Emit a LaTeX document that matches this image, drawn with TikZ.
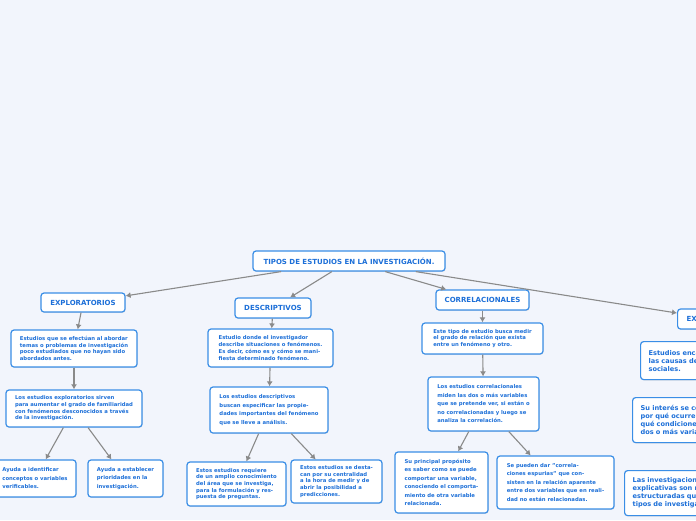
\documentclass[tikz,border=0pt]{standalone}
\usepackage{fontspec}
\setmainfont{DejaVu Sans}
\usetikzlibrary{arrows.meta,shadows}
\definecolor{pagebg}{HTML}{F2F5FC}
\definecolor{tinta}{HTML}{1C6FD8}
\definecolor{borde}{HTML}{3A8EE6}
\definecolor{flecha}{HTML}{8A8A8A}

\begin{document}
\begin{tikzpicture}[x=1pt,y=-1pt,
  caja/.style={draw=borde,fill=white,line width=1.2pt,rounded corners=3pt,
    text=tinta,align=left,inner xsep=6pt,inner ysep=2pt,
    drop shadow={opacity=0.2,shadow xshift=0.6pt,shadow yshift=-0.9pt}},
  tema/.style={caja,font=\fontsize{7}{8}\selectfont\bfseries,align=center},
  nota/.style={caja,font=\fontsize{5.3}{6.7}\selectfont\bfseries},
  notaw/.style={caja,font=\fontsize{5.3}{8.5}\selectfont\bfseries},
  notax/.style={caja,font=\fontsize{6.6}{8}\selectfont\bfseries,anchor=north west,
    text width=150pt,inner xsep=8pt},
  link/.style={draw=flecha,line width=1.1pt,-{Latex[length=5pt,width=6pt]}}]
\useasboundingbox (0,0) rectangle (696,520);
\clip (0,0) rectangle (696,520);
\fill[pagebg] (0,0) rectangle (696,520);
% ===== root =====
\node[tema,minimum width=192pt,minimum height=20pt] (tipos) at (349,261)
  {TIPOS DE ESTUDIOS EN LA INVESTIGACIÓN.};
% ===== the four kinds =====
\node[tema,minimum width=84pt,minimum height=19pt] (explo) at (83,302.5) {EXPLORATORIOS};
\node[tema,minimum width=76pt,minimum height=20pt] (descr) at (273,308) {DESCRIPTIVOS};
\node[tema,minimum width=93pt,minimum height=20pt] (corre) at (482.5,300) {CORRELACIONALES};
\node[tema,minimum height=20pt,inner xsep=9pt,anchor=west] (expli) at (677,319) {EXPLICATIVOS};
% ===== exploratorios branch =====
\node[nota,minimum width=126pt,minimum height=37pt] (explo1) at (74,348.5)
  {Estudios que se efectúan al abordar\\temas o problemas de investigación\\
   poco estudiados que no hayan sido\\abordados antes.};
\node[nota,minimum width=136pt,minimum height=37pt] (explo2) at (74,408.5)
  {Los estudios exploratorios sirven\\para aumentar el grado de familiaridad\\
   con fenómenos desconocidos a través\\de la investigación.};
\node[notaw,minimum width=82pt,minimum height=37pt] (explo3) at (35,478.5)
  {Ayuda a identificar\\conceptos o variables\\verificables.};
\node[notaw,minimum width=75pt,minimum height=37pt] (explo4) at (125.5,478.5)
  {Ayuda a establecer\\prioridades en la\\investigación.};
% ===== descriptivos branch =====
\node[nota,minimum width=125pt,minimum height=38pt] (descr1) at (270.5,348)
  {Estudio donde el investigador\\describe situaciones o fenómenos.\\
   Es decir, cómo es y cómo se mani-\\fiesta determinado fenómeno.};
\node[notaw,minimum width=118pt,minimum height=46pt] (descr2) at (269,410)
  {Los estudios descriptivos\\buscan especificar las propie-\\
   dades importantes del fenómeno\\que se lleve a análisis.};
\node[nota,minimum width=99pt,minimum height=44pt] (descr3) at (236.5,484)
  {Estos estudios requiere\\de un amplio conocimiento\\del área que se investiga,\\
   para la formulación y res-\\puesta de preguntas.};
\node[nota,minimum width=91pt,minimum height=43pt] (descr4) at (336.5,481.5)
  {Estos estudios se desta-\\can por su centralidad\\a la hora de medir y de\\
   abrir la posibilidad a\\predicciones.};
% ===== correlacionales branch =====
\node[nota,minimum width=121pt,minimum height=31pt] (corre1) at (482.5,338.5)
  {Este tipo de estudio busca medir\\el grado de relación que exista\\
   entre un fenómeno y otro.};
\node[notaw,minimum width=111pt,minimum height=54pt] (corre2) at (483.5,404)
  {Los estudios correlacionales\\miden las dos o más variables\\
   que se pretende ver, si están o\\no correlacionadas y luego se\\
   analiza la correlación.};
\node[notaw,minimum width=93pt,minimum height=61pt] (corre3) at (441.5,482.5)
  {Su principal propósito\\es saber como se puede\\comportar una variable,\\
   conociendo el comporta-\\miento de otra variable\\relacionada.};
\node[notaw,minimum width=117pt,minimum height=53pt] (corre4) at (555.5,482.5)
  {Se pueden dar "correla-\\ciones espurias" que con-\\
   sisten en la relación aparente\\entre dos variables que en reali-\\
   dad no están relacionadas.};
% ===== explicativos branch (runs off the right edge) =====
\node[notax,minimum height=38pt] (expli1) at (640,341)
  {Estudios encaminados a\\las causas de los eventos\\sociales.};
\node[notax,minimum height=45pt] (expli2) at (632,397)
  {Su interés se centra en\\por qué ocurre un fenómeno\\qué condiciones se manifiesta\\
   dos o más variables.};
\node[notax,minimum height=45pt] (expli3) at (624,470)
  {Las investigaciones\\explicativas son más\\estructuradas que los\\
   tipos de investigación.};
% ===== connectors =====
\foreach \kind in {explo,descr,corre,expli}{\draw[link] (tipos) -- (\kind);}
\foreach \a/\b in {explo/explo1,explo1/explo2,explo2/explo3,explo2/explo4,
  descr/descr1,descr1/descr2,descr2/descr3,descr2/descr4,
  corre/corre1,corre1/corre2,corre2/corre3,corre2/corre4,
  expli/expli1,expli1/expli2,expli2/expli3}{\draw[link] (\a) -- (\b);}
\end{tikzpicture}
\end{document}
